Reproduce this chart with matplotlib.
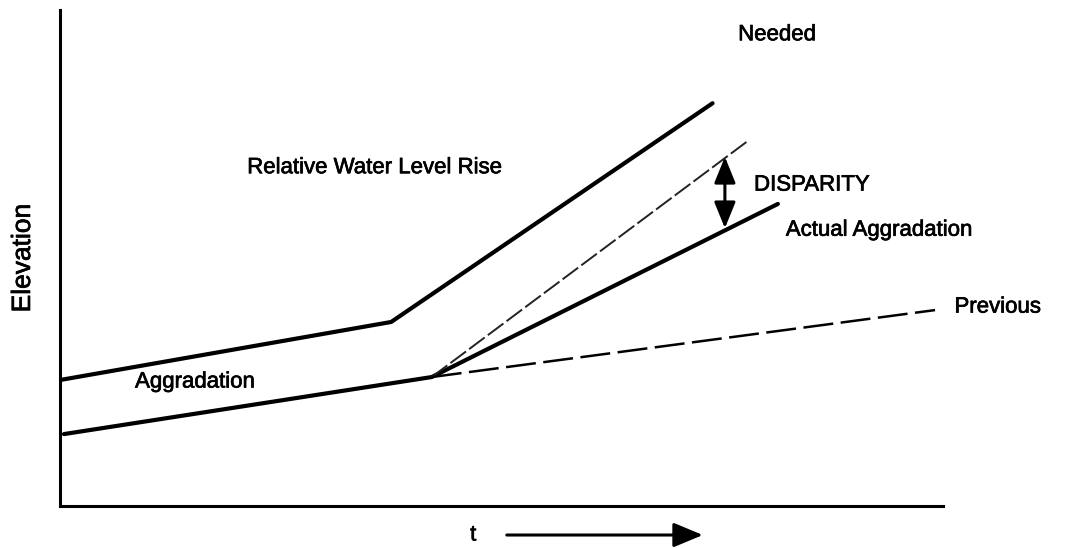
import matplotlib
matplotlib.use("Agg")
import matplotlib.pyplot as plt
import matplotlib.patheffects as pe

plt.rcParams['font.family'] = ['Liberation Sans', 'DejaVu Sans']

# schematic lines (t, elevation), arbitrary units 0..100
water_t = [0.0, 37.5, 73.9]
water_z = [25.4, 37.1, 81.2]

aggr_t = [0.45, 42.1, 81.3]
aggr_z = [14.5, 26.0, 60.9]

needed_t = [42.1, 77.9]
needed_z = [26.0, 73.6]

previous_t = [42.1, 99.1]
previous_z = [26.0, 39.5]

disparity_t = 75.3
disparity_z = [70.4, 56.0]

time_arrow_t = [50.6, 72.8]
time_arrow_z = -5.85

fig = plt.figure(figsize=(10.69, 5.48), dpi=100)
ax = fig.add_axes([60 / 1069, 42 / 548, 883 / 1069, 496 / 548])
ax.set_xlim(0, 100)
ax.set_ylim(0, 100)

for s in ['top', 'right']:
    ax.spines[s].set_visible(False)
for s in ['left', 'bottom']:
    ax.spines[s].set_linewidth(2.2)
ax.set_xticks([])
ax.set_yticks([])

ax.plot(water_t, water_z, color='black', lw=3, solid_capstyle='round')
ax.plot(aggr_t, aggr_z, color='black', lw=3, solid_capstyle='round')
ax.plot(needed_t, needed_z, color='#222222', lw=1.4, linestyle=(0, (10, 2)))
ax.plot(previous_t, previous_z, color='black', lw=1.8, linestyle=(0, (12, 3)))

# disparity double arrow
ax.annotate('', xy=(disparity_t, disparity_z[0]), xytext=(disparity_t, disparity_z[1]),
            arrowprops=dict(arrowstyle='<|-|>,head_length=1.6,head_width=0.65',
                            color='black', lw=2.2, shrinkA=0, shrinkB=0))

# t arrow under the axis
ax.annotate('', xy=(time_arrow_t[1], time_arrow_z), xytext=(time_arrow_t[0], time_arrow_z),
            arrowprops=dict(arrowstyle='-|>,head_length=1.8,head_width=0.75',
                            color='black', lw=2.2, shrinkA=0, shrinkB=0),
            annotation_clip=False)

fs = 16
heavy = [pe.withStroke(linewidth=0.5, foreground='black')]
ax.text(21.2, 68.2, 'Relative Water Level Rise', fontsize=fs, va='center', ha='left', path_effects=heavy)
ax.text(76.8, 95.0, 'Needed', fontsize=fs, va='center', ha='left', path_effects=heavy)
ax.text(78.6, 64.7, 'DISPARITY', fontsize=fs, va='center', ha='left', path_effects=heavy)
ax.text(82.2, 55.6, 'Actual Aggradation', fontsize=fs, va='center', ha='left', path_effects=heavy)
ax.text(101.3, 40.1, 'Previous', fontsize=fs, va='center', ha='left', clip_on=False, path_effects=heavy)
ax.text(8.5, 25.0, 'Aggradation', fontsize=fs, va='center', ha='left', path_effects=heavy)
ax.text(46.8, time_arrow_z, 't', fontsize=fs, va='center', ha='center', clip_on=False, path_effects=heavy)
ax.set_ylabel('Elevation', fontsize=19, labelpad=18, path_effects=heavy)

fig.savefig('out.png', dpi=100)
